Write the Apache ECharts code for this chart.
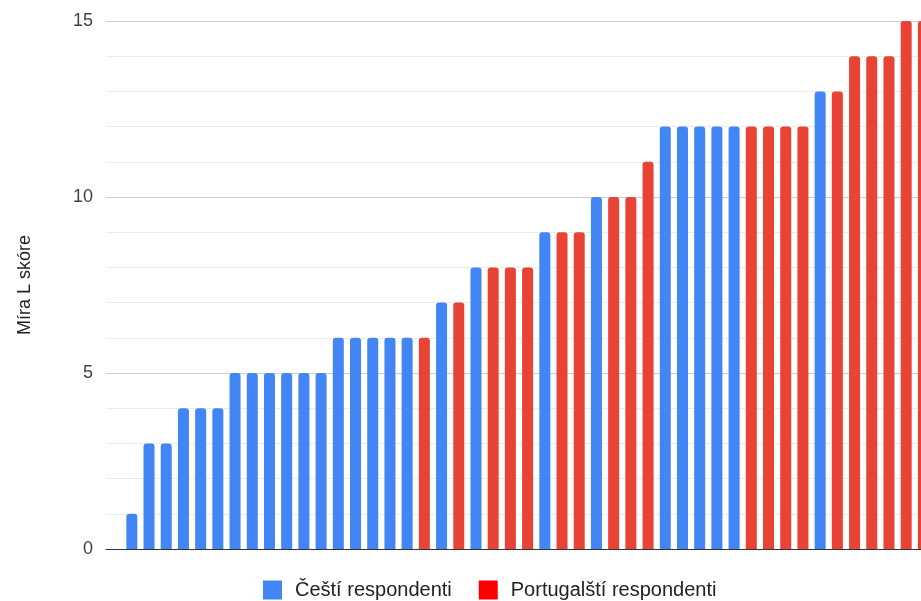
<!DOCTYPE html>
<html>
<head>
<meta charset="utf-8">
<script src="https://cdn.jsdelivr.net/npm/echarts@6/dist/echarts.min.js"></script>
<style>
  html, body { margin: 0; padding: 0; overflow: hidden; background: #fff; }
  #chart { width: 960px; height: 601px; }
</style>
</head>
<body>
<div id="chart"></div>
<script>
// Míra L skóre per respondent, sorted ascending
const scores = [1, 3, 3, 4, 4, 4, 5, 5, 5, 5, 5, 5, 6, 6, 6, 6, 6, 6, 7, 7,
  8, 8, 8, 8, 9, 9, 9, 10, 10, 10, 11, 12, 12, 12, 12, 12, 12, 12, 12, 12,
  13, 13, 14, 14, 14, 15, 15];
// respondent group: C = Czech, P = Portuguese
const groups = ['C','C','C','C','C','C','C','C','C','C','C','C','C','C','C','C','C','P','C','P',
  'C','P','P','P','C','P','P','C','P','P','P','C','C','C','C','C','P','P','P','P',
  'C','P','P','P','P','P','P'];
const seriesNames = ['Čeští respondenti', 'Portugalští respondenti'];
const yTicks = [0, 5, 10, 15];

// one leading empty slot keeps the first bar off the axis edge
const categories = [''].concat(scores.map((_, i) => String(i + 1)));
const czech = ['-'].concat(scores.map((v, i) => groups[i] === 'C' ? v : '-'));
const portuguese = ['-'].concat(scores.map((v, i) => groups[i] === 'P' ? v : '-'));

const FONT = '"Liberation Sans", Arial, sans-serif';
const chart = echarts.init(document.getElementById('chart'), null, { renderer: 'canvas' });
chart.setOption({
  animation: false,
  textStyle: { fontFamily: FONT },
  grid: { left: 106, right: 28, top: 21, bottom: 52, containLabel: false },
  legend: {
    left: 263, top: 580, padding: 0,
    itemWidth: 19, itemHeight: 19, itemGap: 27,
    icon: 'rect',
    textStyle: { fontSize: 20, color: '#222', fontFamily: FONT, padding: [0, 0, 0, 8] },
    data: [
      { name: seriesNames[0], itemStyle: { color: '#4285f4' } },
      { name: seriesNames[1], itemStyle: { color: '#ff0000' } }
    ]
  },
  xAxis: {
    type: 'category',
    data: categories,
    axisLine: { show: true, lineStyle: { color: '#333', width: 1 } },
    axisTick: { show: false },
    axisLabel: { show: false },
    splitLine: { show: false }
  },
  yAxis: {
    type: 'value',
    min: yTicks[0], max: yTicks[yTicks.length - 1], interval: 5,
    name: 'Míra L skóre',
    nameLocation: 'middle',
    nameGap: 72,
    nameTextStyle: { fontSize: 18, color: '#222', fontFamily: FONT },
    axisLine: { show: false },
    axisTick: { show: false },
    axisLabel: { fontSize: 18, color: '#444', margin: 13, fontFamily: FONT },
    splitLine: { show: true, lineStyle: { color: '#cccccc', width: 1 } },
    minorTick: { show: false, splitNumber: 5 },
    minorSplitLine: { show: true, lineStyle: { color: '#ebebeb', width: 1 } }
  },
  series: [
    {
      name: seriesNames[0], type: 'bar', data: czech,
      barWidth: 11, barGap: '-100%',
      itemStyle: { color: '#4285f4', borderRadius: [3, 3, 0, 0] }
    },
    {
      name: seriesNames[1], type: 'bar', data: portuguese,
      barWidth: 11, barGap: '-100%',
      itemStyle: { color: '#e84335', borderRadius: [3, 3, 0, 0] }
    }
  ]
});
</script>
</body>
</html>
